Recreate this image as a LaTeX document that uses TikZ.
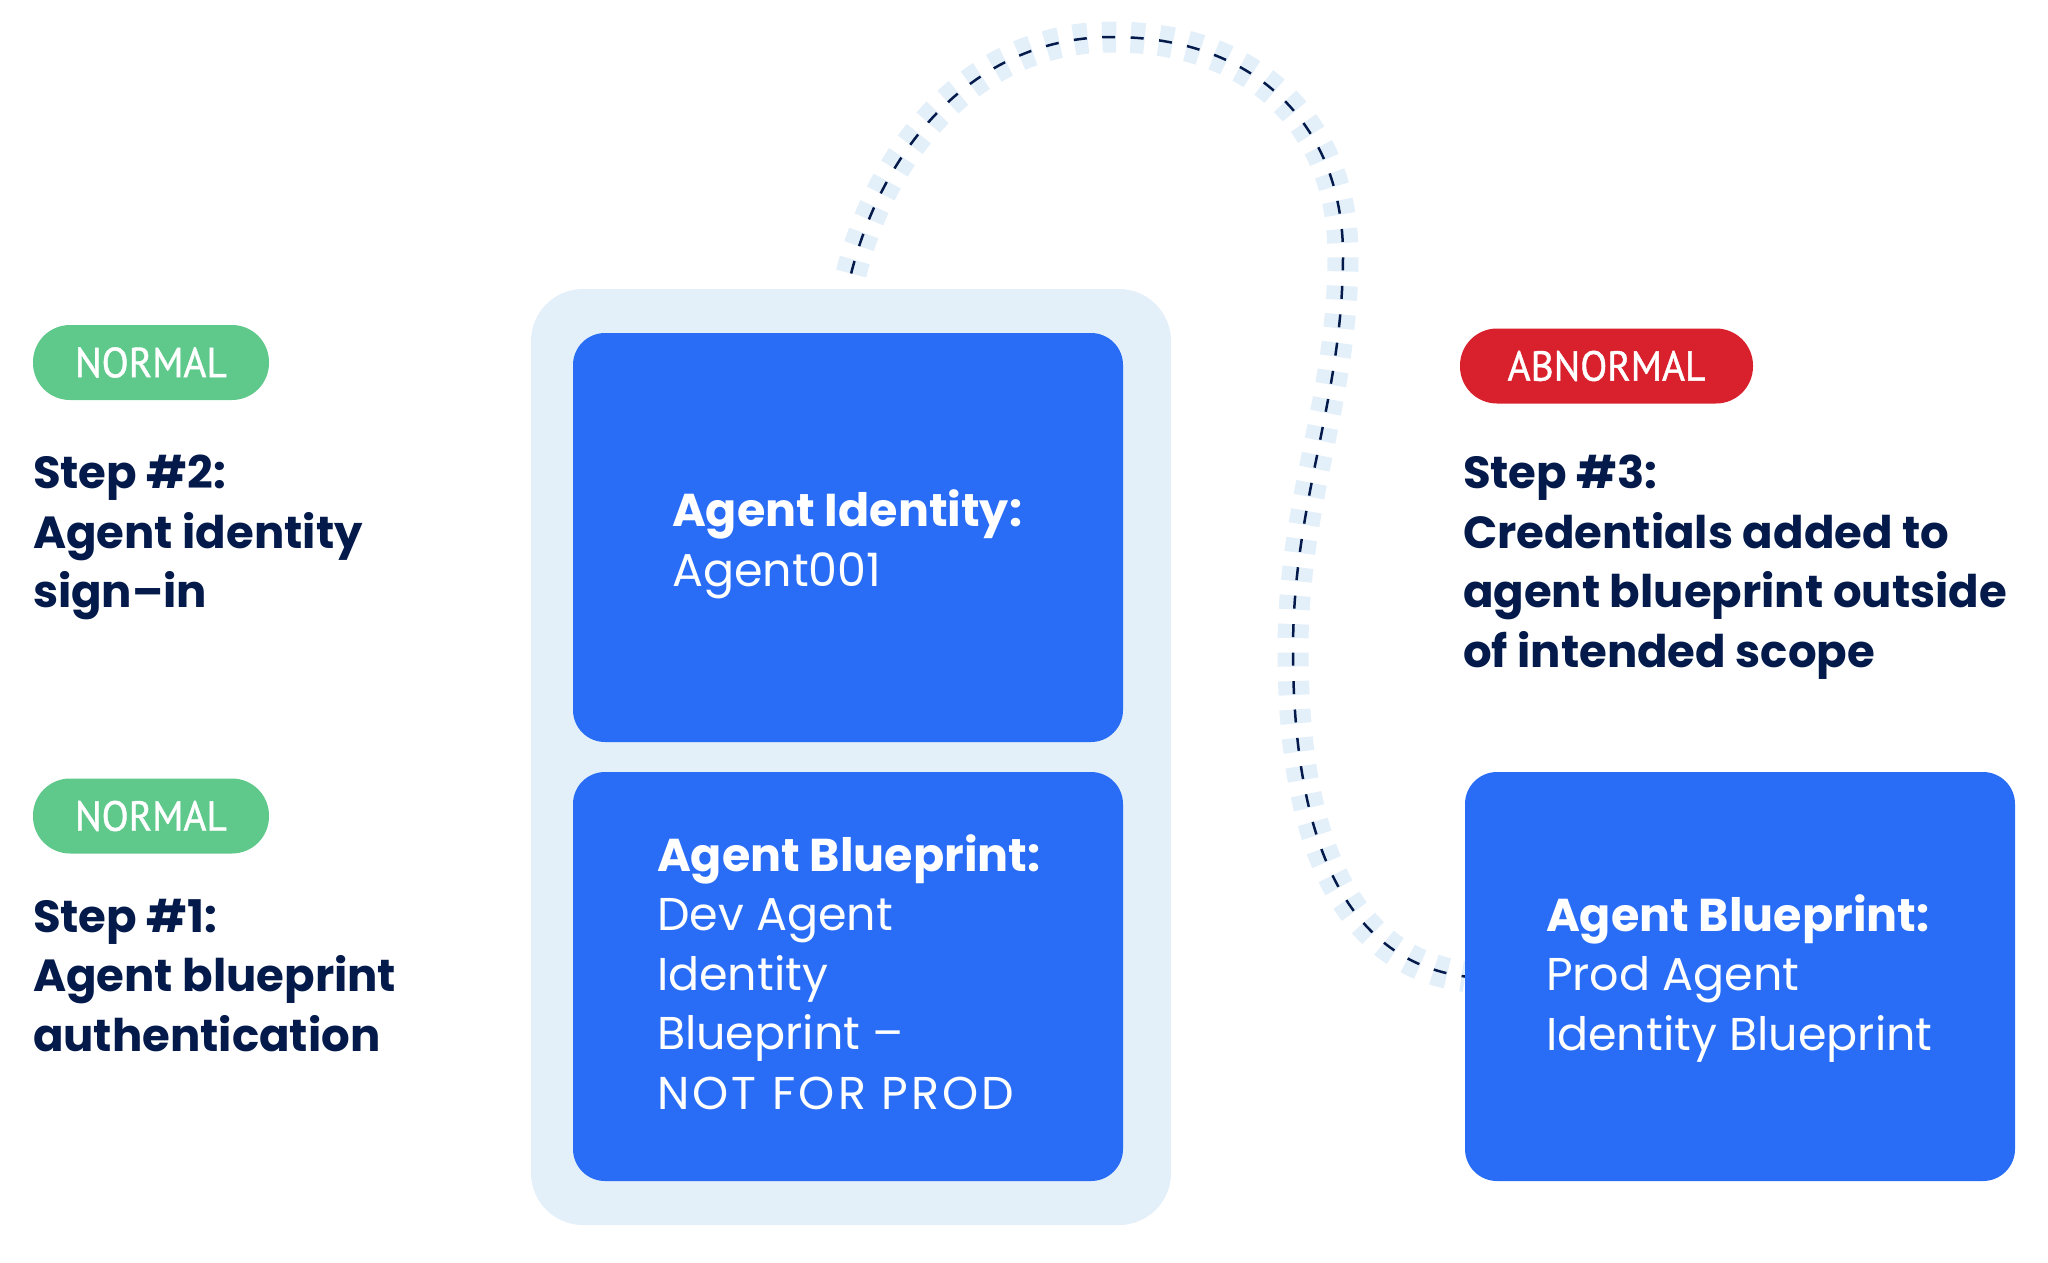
\documentclass[tikz,border=0pt]{standalone}
\usepackage{fontspec}
\usetikzlibrary{backgrounds}
\setmainfont{Poppins}
\newfontfamily\pillfont[FakeStretch=.94,FakeBold=1]{PT Sans}
\definecolor{panelblue}{HTML}{E3EFF9}
\definecolor{boxblue}{HTML}{296DF6}
\definecolor{navy}{HTML}{031A4B}
\definecolor{okgreen}{HTML}{5FC98B}
\definecolor{badred}{HTML}{D9202D}
\begin{document}
\begin{tikzpicture}[x=1pt,y=-1pt,
every node/.style={inner sep=0pt,outer sep=0pt},
panel/.style={fill=panelblue,rounded corners=52pt,minimum width=640pt,minimum height=936pt},
agent/.style={fill=boxblue,rounded corners=32pt,minimum width=550pt,minimum height=409pt},
agenttext/.style={anchor=north west,align=left,text=white,font=\fontsize{46}{59.5}\selectfont},
pill/.style={rounded corners=37pt,minimum height=75pt,text=white,font=\pillfont\fontsize{42}{50}\selectfont},
normal/.style={pill,fill=okgreen,minimum width=236pt},
abnormal/.style={pill,fill=badred,minimum width=293pt},
steptext/.style={anchor=north west,align=left,text=navy,font=\fontsize{45}{59.5}\selectfont\bfseries},
]
\useasboundingbox (0,0) rectangle (2048,1262);
\node[panel]at(851,757)(outer){};
\coordinate (start) at (851,274);
\node[agent]at(848,537.5)(identity){};
\node[agent]at(848,976.5)(blueprint){};
\node[agent]at(1740,976.5)(prod){};
% connector goes under the prod box
\begin{pgfonlayer}{background}
\draw[navy,line width=2.5pt,dash pattern=on 13pt off 15.5pt,dash phase=-.5pt,
preaction={draw,panelblue,line width=31pt,dash pattern=on 14pt off 14.5pt}]
(start) .. controls (885,140) and (980,37) .. (1112,37) .. controls (1260,37) and (1343,130) .. (1343,255) .. controls (1343,400) and (1293,500) .. (1293,650) .. controls (1293,830) and (1340,960) .. (prod.west);
\end{pgfonlayer}
\node[agenttext]at(672,490)(identitytext){\textbf{Agent Identity:}\\Agent001};
\node[agenttext]at(657,834.5)(blueprinttext){\textbf{Agent Blueprint:}\\Dev Agent\\Identity\\Blueprint –\\{\addfontfeature{LetterSpace=7}NOT FOR PROD}};
\node[agenttext]at(1546,894.5)(prodtext){\textbf{Agent Blueprint:}\\Prod Agent\\Identity Blueprint};
\node[normal]at(151,362.5)(pilltwo){NORMAL};
\node[normal]at(151,816)(pillone){NORMAL};
\node[abnormal]at(1606.5,366)(pillthree){ABNORMAL};
\node[steptext]at(33,455)(steptwo){Step \#2:\\Agent identity\\sign–in};
\node[steptext]at(33,899)(stepone){Step \#1:\\Agent blueprint\\authentication};
\node[steptext]at(1463,455)(stepthree){Step \#3:\\Credentials added to\\agent blueprint outside\\of intended scope};
\end{tikzpicture}
\end{document}
